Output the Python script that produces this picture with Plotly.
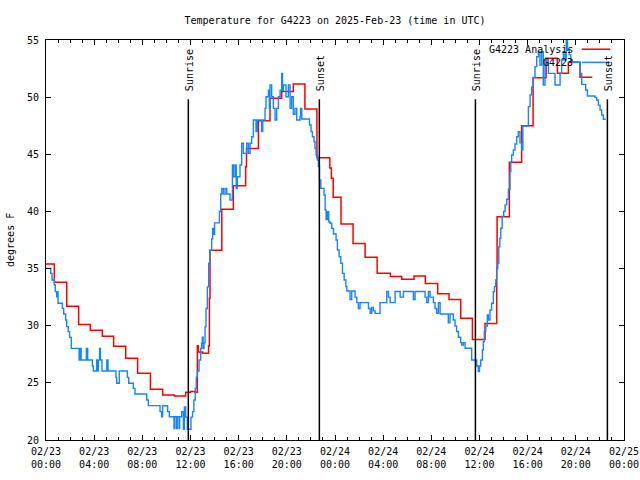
import plotly.graph_objects as go

# ---------------- data (hours since 2025-02-23 00:00 UTC, degrees F) ----------------
analysis_hours = [0.0, 0.69, 1.72, 2.71, 3.68, 4.68, 5.62, 6.62, 7.61, 8.67,
                  9.69, 10.66, 11.6, 12.0, 12.35, 12.57, 12.65, 13.0, 13.5, 13.57,
                  13.62, 14.6, 15.56, 16.58, 16.65, 17.64, 18.6, 19.57, 20.54, 21.5,
                  22.5, 23.57, 23.7, 23.85, 24.5, 25.5, 26.5, 27.5, 28.6, 29.54,
                  30.56, 31.5, 32.53, 33.47, 34.44, 35.41, 36.46, 37.43, 37.46, 38.48,
                  39.5, 40.45, 41.53, 42.47, 43.38, 44.35, 45.37]
analysis_temps = [35.4, 33.8, 31.7, 30.1, 29.6, 29.07, 28.2, 27.15, 25.84, 24.44,
                  23.94, 23.85, 24.17, 24.25, 24.17, 28.25, 27.7, 27.6, 28.25, 32.4,
                  36.6, 40.2, 42.25, 43.9, 45.5, 47.94, 49.9, 50.5, 51.15, 48.96,
                  44.7, 43.8, 42.9, 41.24, 38.9, 37.2, 35.99, 34.6, 34.3, 34.06,
                  34.35, 33.7, 32.8, 32.3, 30.65, 28.8, 30.2, 35.0, 39.54, 44.3,
                  47.5, 51.7, 53.4, 52.08, 53.05, 51.73, 51.73]

obs_points = [
    (0.0, 35.02), (0.39, 34.58), (0.5, 34.0), (0.69, 33.56), (0.77, 32.98), (0.89, 32.54),
    (0.95, 32.98), (1.0, 31.96), (1.36, 31.52), (1.47, 31.03), (1.63, 30.5), (1.72, 29.92),
    (1.85, 29.48), (1.96, 28.98), (2.1, 28.02), (2.75, 27.0), (2.83, 28.02), (2.92, 27.0),
    (3.35, 28.0), (3.46, 27.0), (3.85, 26.48), (3.93, 26.04), (4.21, 27.0), (4.26, 26.04),
    (4.35, 27.0), (4.45, 28.0), (4.52, 27.0), (4.65, 26.04), (5.05, 27.0), (5.15, 26.04),
    (5.81, 25.48), (5.87, 24.96), (6.09, 26.04), (6.76, 25.48), (6.87, 24.96), (7.25, 24.52),
    (7.39, 24.03), (8.36, 23.5), (8.5, 23.01), (9.47, 22.48), (9.6, 22.04), (9.68, 23.0),
    (10.1, 22.48), (10.24, 22.04), (10.63, 21.0), (10.7, 22.04), (10.85, 21.0), (10.9, 22.04),
    (11.05, 21.0), (11.1, 22.04), (11.27, 22.48), (11.41, 20.94), (11.49, 22.9), (11.6, 22.0),
    (11.74, 20.94), (12.04, 22.0), (12.17, 22.48), (12.28, 23.5), (12.4, 24.5), (12.48, 25.5),
    (12.57, 26.04), (12.71, 27.0), (12.85, 28.0), (12.92, 28.46), (12.98, 29.0), (13.05, 28.0),
    (13.12, 28.5), (13.21, 29.9), (13.29, 31.5), (13.4, 33.4), (13.51, 35.46), (13.62, 36.6),
    (13.76, 37.6), (13.84, 38.5), (13.93, 38.0), (14.0, 39.0), (14.4, 40.0), (14.51, 41.53),
    (14.6, 42.0), (14.73, 41.53), (14.87, 42.0), (15.01, 41.53), (15.28, 41.0), (15.48, 44.06),
    (15.56, 43.04), (15.7, 44.06), (15.8, 42.0), (15.89, 43.04), (16.11, 44.06), (16.25, 45.96),
    (16.39, 45.08), (16.67, 45.96), (16.81, 45.08), (16.95, 45.96), (17.08, 46.54), (17.22, 48.0),
    (17.44, 47.0), (17.55, 48.0), (17.9, 47.0), (18.0, 48.0), (18.19, 49.02), (18.27, 50.04),
    (18.47, 50.6), (18.55, 49.02), (18.6, 51.06), (18.74, 50.04), (18.88, 49.02), (19.02, 48.0),
    (19.16, 49.02), (19.3, 50.04), (19.44, 50.6), (19.57, 52.08), (19.64, 50.6), (19.71, 51.06),
    (19.93, 50.04), (20.13, 51.06), (20.27, 49.02), (20.4, 50.04), (20.54, 48.5), (20.68, 49.02),
    (20.82, 48.0), (21.1, 48.3), (21.14, 49.0), (21.24, 48.09), (21.88, 47.56), (22.01, 46.98),
    (22.12, 46.54), (22.26, 46.1), (22.34, 45.52), (22.43, 44.94), (22.54, 44.5), (22.62, 43.92),
    (22.71, 42.75), (22.82, 42.02), (23.09, 41.44), (23.18, 40.13), (23.26, 39.3), (23.37, 39.98),
    (23.48, 39.1), (23.59, 38.96), (23.73, 38.52), (23.87, 38.03), (24.09, 37.5), (24.2, 36.63),
    (24.34, 36.04), (24.48, 35.46), (24.62, 34.58), (24.76, 34.0), (24.9, 33.42), (24.98, 33.04),
    (25.25, 32.3), (25.39, 33.04), (25.67, 32.5), (25.81, 32.02), (25.94, 31.5), (26.08, 32.02),
    (26.78, 31.5), (26.92, 31.08), (27.05, 31.6), (27.19, 31.3), (27.33, 31.08), (27.74, 32.02),
    (28.3, 33.0), (28.44, 32.5), (28.58, 32.02), (28.99, 33.0), (29.41, 32.5), (29.68, 33.0),
    (30.51, 32.3), (30.65, 33.0), (31.48, 32.5), (31.62, 32.02), (31.76, 33.0), (31.9, 32.5),
    (32.17, 32.02), (32.31, 31.5), (32.45, 31.08), (32.59, 32.02), (32.73, 31.03), (33.41, 30.25),
    (33.55, 31.03), (33.83, 30.5), (33.97, 29.98), (34.1, 29.49), (34.25, 28.99), (34.44, 28.52),
    (34.52, 28.3), (34.66, 28.52), (34.8, 28.03), (35.35, 27.0), (35.77, 26.48), (35.9, 26.0),
    (36.0, 26.48), (36.1, 27.0), (36.24, 27.88), (36.32, 28.61), (36.4, 29.49), (36.52, 29.98),
    (36.65, 30.94), (36.73, 30.5), (36.87, 31.38), (37.01, 31.96), (37.15, 32.98), (37.24, 33.42),
    (37.35, 34.0), (37.43, 35.0), (37.52, 35.47), (37.6, 36.9), (37.69, 37.65), (37.77, 38.53),
    (37.88, 39.55), (38.01, 40.0), (38.12, 40.57), (38.26, 41.06), (38.4, 41.94), (38.53, 43.5),
    (38.6, 44.36), (38.67, 44.94), (38.81, 45.38), (38.95, 45.9), (39.09, 46.54), (39.22, 46.98),
    (39.36, 46.0), (39.5, 45.38), (39.6, 47.48), (40.06, 49.17), (40.2, 50.2), (40.33, 50.9),
    (40.47, 51.73), (40.61, 52.67), (40.75, 53.54), (40.89, 53.98), (41.02, 52.8), (41.16, 53.98),
    (41.3, 51.06), (41.44, 52.8), (41.58, 53.25), (41.72, 52.08), (42.27, 51.06), (42.69, 52.08),
    (42.82, 53.25), (42.96, 53.98), (43.1, 53.25), (43.2, 55.0), (43.31, 54.1), (43.45, 53.7),
    (43.58, 53.25), (43.71, 53.05), (44.35, 52.08), (44.49, 51.12), (44.82, 50.63), (44.96, 50.1),
    (45.59, 49.98), (45.73, 49.75), (45.87, 49.3), (46.01, 48.88), (46.15, 48.44), (46.29, 48.06),
    (46.48, 48.06),
]
obs_hours = [p[0] for p in obs_points]
obs_temps = [p[1] for p in obs_points]

sun_hours = [11.82, 22.70, 35.66, 46.62]
sun_labels = ["Sunrise", "Sunset", "Sunrise", "Sunset"]

x_tick_hours = [0, 4, 8, 12, 16, 20, 24, 28, 32, 36, 40, 44, 48]
x_tick_labels = ["02/23<br>00:00", "02/23<br>04:00", "02/23<br>08:00", "02/23<br>12:00",
                 "02/23<br>16:00", "02/23<br>20:00", "02/24<br>00:00", "02/24<br>04:00",
                 "02/24<br>08:00", "02/24<br>12:00", "02/24<br>16:00", "02/24<br>20:00",
                 "02/25<br>00:00"]
y_ticks = [20, 25, 30, 35, 40, 45, 50, 55]

title_text = "Temperature for G4223 on 2025-Feb-23 (time in UTC)"
series_names = ["G4223 Analysis", "G4223"]

# ---------------- styling ----------------
FONT = "DejaVu Sans Mono"
RED = "#ff0000"
BLUE = "#1585ff"

fig = go.Figure()
fig.add_trace(go.Scatter(x=analysis_hours, y=analysis_temps, mode="lines",
                         line=dict(color=RED, width=1.5, shape="hv"),
                         name=series_names[0], showlegend=False, hoverinfo="skip"))
fig.add_trace(go.Scatter(x=obs_hours, y=obs_temps, mode="lines",
                         line=dict(color=BLUE, width=1.4, shape="hv"),
                         name=series_names[1], showlegend=False, hoverinfo="skip"))

shapes = []
annotations = []
for h, lab in zip(sun_hours, sun_labels):
    shapes.append(dict(type="line", xref="x", yref="paper", x0=h, x1=h, y0=0, y1=0.852,
                       line=dict(color="black", width=1.5)))
    annotations.append(dict(x=h, xref="x", y=0.868, yref="paper", text=lab, textangle=-90,
                            showarrow=False, xanchor="center", yanchor="bottom", xshift=1,
                            font=dict(family=FONT, size=10, color="black")))

# legend (gnuplot style: text then sample line)
legend_rows = [(series_names[0], RED, 0.977), (series_names[1], BLUE, 0.944)]
for name, col, yy in legend_rows:
    annotations.append(dict(x=0.915, xref="paper", y=yy, yref="paper", text=name,
                            showarrow=False, xanchor="right", yanchor="middle",
                            font=dict(family=FONT, size=10, color="black")))
    shapes.append(dict(type="line", xref="paper", yref="paper", x0=0.927, x1=0.976,
                       y0=yy, y1=yy, line=dict(color=col, width=1.5)))

annotations.append(dict(x=-0.0623, xref="paper", y=0.5, yref="paper", text="degrees F",
                        textangle=-90, showarrow=False, xanchor="center", yanchor="middle",
                        font=dict(family=FONT, size=10, color="black")))

fig.update_layout(
    width=640, height=480,
    margin=dict(l=46, r=16, t=40, b=40, autoexpand=False),
    paper_bgcolor="white", plot_bgcolor="white",
    title=dict(text=title_text, x=0.5, xref="paper", xanchor="center",
               y=1 - 20 / 480, yref="container", yanchor="middle",
               font=dict(family=FONT, size=10, color="black")),
    font=dict(family=FONT, size=10, color="black"),
    shapes=shapes, annotations=annotations,
    showlegend=False,
)
fig.update_xaxes(range=[0, 48], tickmode="array", tickvals=x_tick_hours, ticktext=x_tick_labels,
                 ticks="inside", ticklen=5, tickwidth=1, tickcolor="black",
                 showline=True, linecolor="black", linewidth=1, mirror="allticks",
                 showgrid=False, zeroline=False, automargin=False, ticklabelstandoff=2,
                 minor=dict(tickmode="linear", tick0=0, dtick=1, ticks="inside", ticklen=3,
                            tickwidth=1, tickcolor="black", showgrid=False),
                 tickfont=dict(family=FONT, size=10, color="black"))
fig.update_yaxes(range=[20, 55], tickmode="array", tickvals=y_ticks,
                 ticks="inside", ticklen=5, tickwidth=1, tickcolor="black",
                 showline=True, linecolor="black", linewidth=1, mirror="allticks",
                 showgrid=False, zeroline=False, ticklabelstandoff=4, automargin=False,
                 tickfont=dict(family=FONT, size=10, color="black"))

fig.write_html("out.html",
               config={"displayModeBar": False, "staticPlot": True},
               post_script="document.body.style.margin='0';document.body.style.padding='0';"
                           "document.body.style.overflow='hidden';")
